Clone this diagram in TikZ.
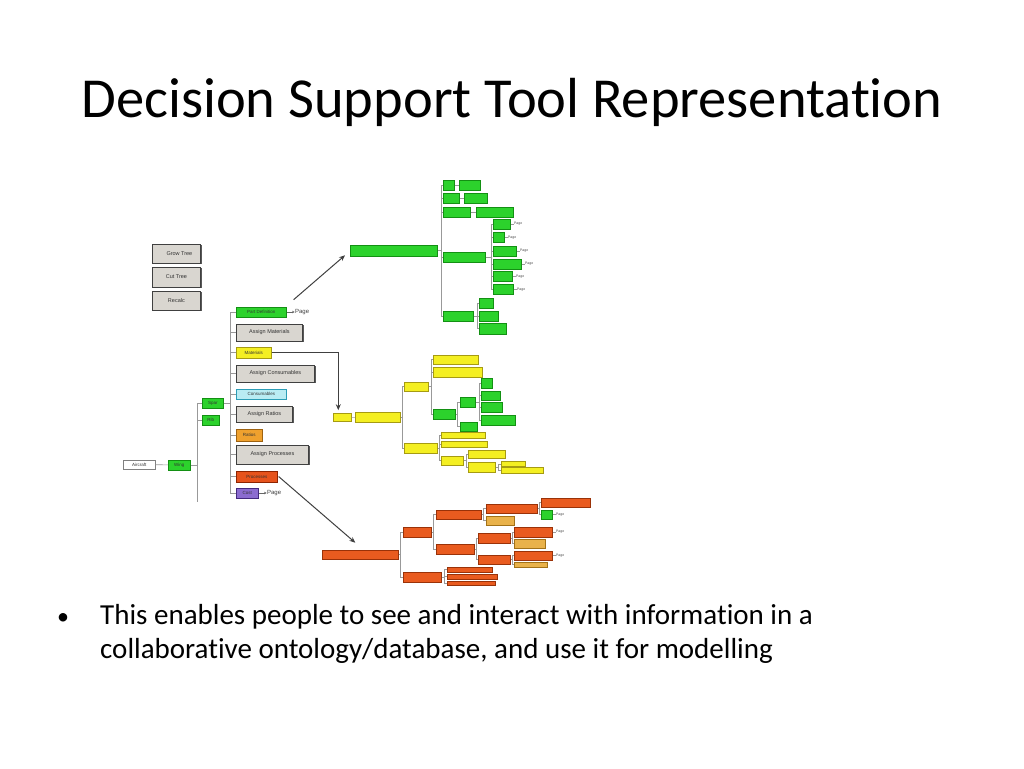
\documentclass[tikz,border=0pt]{standalone}
\usepackage{fontspec}
\setmainfont{Carlito}[Ligatures=NoCommon]
\newfontfamily\uifont{Liberation Sans}
\usetikzlibrary{positioning,arrows.meta,shadows}

\definecolor{gfill}{HTML}{2CD22C}
\definecolor{gline}{HTML}{139013}
\definecolor{yfill}{HTML}{F4EF22}
\definecolor{yline}{HTML}{A69B12}
\definecolor{cfill}{HTML}{B9ECF3}
\definecolor{cline}{HTML}{2C9DB6}
\definecolor{rfill}{HTML}{EFA12E}
\definecolor{rline}{HTML}{9E6210}
\definecolor{pfill}{HTML}{E6531C}
\definecolor{pline}{HTML}{8E2400}
\definecolor{vfill}{HTML}{8B6CD0}
\definecolor{vline}{HTML}{43297F}
\definecolor{ofill}{HTML}{E95B1F}
\definecolor{oline}{HTML}{9A3208}
\definecolor{lfill}{HTML}{E9B24A}
\definecolor{lline}{HTML}{A27218}
\definecolor{bgrey}{HTML}{D9D6D0}

\tikzset{
  tb/.style={anchor=west, inner sep=0pt, minimum height=10, line width=0.6pt,
    font=\uifont\fontsize{4.5}{5}\selectfont, text=black!80},
  gb/.style={tb, fill=gfill, draw=gline},
  yb/.style={tb, fill=yfill, draw=yline},
  ob/.style={tb, fill=ofill, draw=oline},
  lb/.style={tb, fill=lfill, draw=lline},
  btn/.style={tb, fill=bgrey, draw=black!75, line width=0.8pt,
    drop shadow={shadow xshift=1.3pt, shadow yshift=-1.3pt, fill=black!65, opacity=1},
    font=\uifont\fontsize{5.5}{6}\selectfont},
  link/.style={draw=black!40, line width=0.6pt},
  pg/.style={inner sep=0.3pt, font=\uifont\fontsize{6}{6}\selectfont, text=black!75},
  pgs/.style={inner sep=0.3pt, font=\uifont\fontsize{3.5}{4}\selectfont, text=black!70},
  tip/.style={draw=black!60, line width=0.4pt, -{Stealth[length=2.5pt,width=2.5pt]}},
  bigarrow/.style={draw=black!75, line width=1pt, -{Stealth[length=6pt,width=5pt]}},
}

\begin{document}
\begin{tikzpicture}[x=1pt,y=-1pt]
\fill[white] (0,0) rectangle (1024,768);
\useasboundingbox (0,0) rectangle (1024,768);

% title and bullet
\node[anchor=base, font=\fontsize{56.5}{66}\selectfont] (title) at (512,117) {Decision Support Tool Representation};
\node[anchor=base, font=\fontsize{24}{28}\selectfont] (dot) at (63,624) {\textbullet};
\node[anchor=base west, font=\fontsize{29}{35}\selectfont, inner sep=0pt] (b1) at (100,624)
  {This enables people to see and interact with information in a};
\node[anchor=base west, font=\fontsize{29}{35}\selectfont, inner sep=0pt] (b2) at (100,658)
  {collaborative ontology/database, and use it for modelling};

% tool buttons
\node[btn, minimum width=48, minimum height=19] (grow) at (152,253.5) {\hspace*{6pt}Grow Tree};
\node[btn, minimum width=48, minimum height=20] (cut) at (152,277) {Cut Tree};
\node[btn, minimum width=48, minimum height=19] (recalc) at (152,300.5) {Recalc};

% main tree
\node[tb, fill=white, draw=black!50, minimum width=32, minimum height=9] (air) at (123,464.5) {Aircraft};
\node[gb, minimum width=22] (wing) at (168,465) {Wing};
\node[gb, minimum width=21] (spar) at (202,403) {Spar};
\node[gb, minimum width=17] (rib) at (202,420) {Rib};
\coordinate (wingend) at (197,502);

\node[gb, minimum width=50] (pd) at (236,312) {Part Definition};
\node[btn, minimum width=66, minimum height=17] (am) at (236,332.5) {Assign Materials};
\node[yb, minimum width=35, minimum height=11] (mat) at (236,352.5) {Materials};
\node[btn, minimum width=78, minimum height=17] (ac) at (236,373.5) {Assign Consumables};
\node[tb, fill=cfill, draw=cline, minimum width=50] (cons) at (236,394) {Consumables};
\node[btn, minimum width=56, minimum height=16] (ar) at (236,414) {Assign Ratios};
\node[tb, fill=rfill, draw=rline, minimum width=26, minimum height=12] (rat) at (236,435) {Ratios};
\node[btn, minimum width=72, minimum height=19] (ap) at (236,454.5) {Assign Processes};
\node[tb, fill=pfill, draw=pline, minimum width=41, minimum height=11] (proc) at (236,476.5) {Processes};
\node[tb, fill=vfill, draw=vline, minimum width=22] (cost) at (236,493) {Cost};
\node[pg, right=8pt of pd] (pdp) {Page};
\node[pg, right=8pt of cost] (costp) {Page};

\draw[link] (air) -- (wing);
\draw[link] (wing.east) -- ++(7,0);
\draw[link] (spar.west) -| (wingend);
\draw[link] (rib.west) -- ++(-5,0);
\draw[link] (spar.east) -- ++(7,0);
\draw[link] (pd.west) -- ++(-6,0) |- (cost.west);
\draw[link] (am.west) -- ++(-6,0) (mat.west) -- ++(-6,0) (ac.west) -- ++(-6,0)
  (cons.west) -- ++(-6,0) (ar.west) -- ++(-6,0) (rat.west) -- ++(-6,0)
  (ap.west) -- ++(-6,0) (proc.west) -- ++(-6,0);
\draw[tip] (pd.east) -- (pdp.west);
\draw[tip] (cost.east) -- (costp.west);

% part definition tree
\node[gb, minimum width=87, minimum height=11] (gbig) at (350,250.5) {};
\node[gb, minimum width=11] (g1a) at (443,185) {};
\node[gb, minimum width=21] (g1b) at (459,185) {};
\node[gb, minimum width=16] (g2a) at (443,198) {};
\node[gb, minimum width=23] (g2b) at (464,198) {};
\node[gb, minimum width=27] (g3a) at (443,212) {};
\node[gb, minimum width=37] (g3b) at (476,212) {};
\node[gb, minimum width=42] (gmid) at (443,257) {};
\node[gb, minimum width=17] (gm1) at (493,224) {};
\node[gb, minimum width=11] (gm2) at (493,237.5) {};
\node[gb, minimum width=23] (gm3) at (493,251) {};
\node[gb, minimum width=28] (gm4) at (493,264) {};
\node[gb, minimum width=19] (gm5) at (493,276.5) {};
\node[gb, minimum width=20] (gm6) at (493,289.5) {};
\node[gb, minimum width=30] (gbot) at (443,316) {};
\node[gb, minimum width=14] (gb1) at (479,303) {};
\node[gb, minimum width=19] (gb2) at (479,316) {};
\node[gb, minimum width=27, minimum height=11] (gb3) at (479,328.5) {};
\node[pgs, right=3pt of gm1] (gm1p) {Page};
\node[pgs, right=3pt of gm2] (gm2p) {Page};
\node[pgs, right=3pt of gm3] (gm3p) {Page};
\node[pgs, right=3pt of gm4] (gm4p) {Page};
\node[pgs, right=3pt of gm5] (gm5p) {Page};
\node[pgs, right=3pt of gm6] (gm6p) {Page};

\draw[link] (gbig.east) -- ++(4,0);
\draw[link] (g1a.west) -- ++(-2,0) |- (gbot.west);
\draw[link] (g2a.west) -- ++(-2,0) (g3a.west) -- ++(-2,0) (gmid.west) -- ++(-2,0);
\draw[link] (g1a) -- (g1b) (g2a) -- (g2b) (g3a) -- (g3b);
\draw[link] (gmid.east) -- ++(6,0);
\draw[link] (gm1.west) -- ++(-2,0) |- (gm6.west);
\draw[link] (gm2.west) -- ++(-2,0) (gm3.west) -- ++(-2,0) (gm4.west) -- ++(-2,0)
  (gm5.west) -- ++(-2,0);
\draw[link] (gm1) -- (gm1p) (gm2) -- (gm2p) (gm3) -- (gm3p) (gm4) -- (gm4p)
  (gm5) -- (gm5p) (gm6) -- (gm6p);
\draw[link] (gbot.east) -- ++(4,0);
\draw[link] (gb1.west) -- ++(-2,0) |- (gb3.west);
\draw[link] (gb2.west) -- ++(-2,0);

% materials tree
\node[yb, minimum width=18, minimum height=8] (ystub) at (333,417.5) {};
\node[yb, minimum width=45] (ybig) at (355,417) {};
\node[yb, minimum width=24, minimum height=9] (yu) at (404,386.5) {};
\node[yb, minimum width=45, minimum height=9] (yu1) at (433,359.5) {};
\node[yb, minimum width=49] (yu2) at (433,372) {};
\node[gb, minimum width=22] (yg) at (433,414) {};
\node[gb, minimum width=15] (yg1) at (460,402) {};
\node[gb, minimum width=17, minimum height=9] (yg2) at (460,426.5) {};
\node[gb, minimum width=11] (yg11) at (481,383) {};
\node[gb, minimum width=19, minimum height=9] (yg12) at (481,395.5) {};
\node[gb, minimum width=21] (yg13) at (481,407) {};
\node[gb, minimum width=34] (yg14) at (481,420) {};
\node[yb, minimum width=33] (yl) at (404,448) {};
\node[yb, minimum width=44, minimum height=6] (yl1) at (441,435.5) {};
\node[yb, minimum width=46, minimum height=6] (yl2) at (441,444) {};
\node[yb, minimum width=22, minimum height=9] (yl3) at (441,460.5) {};
\node[yb, minimum width=37, minimum height=8] (yl31) at (468,454) {};
\node[yb, minimum width=27] (yl32) at (468,467) {};
\node[yb, minimum width=24, minimum height=5] (yl321) at (501,464) {};
\node[yb, minimum width=42, minimum height=6] (yl322) at (501,470) {};

\draw[link] (ystub) -- (ybig);
\draw[link] (ybig.east) -- ++(2,0);
\draw[link] (yu.west) -- ++(-2,0) |- (yl.west);
\draw[link] (yu.east) -- ++(3,0);
\draw[link] (yu1.west) -- ++(-2,0) |- (yg.west);
\draw[link] (yu2.west) -- ++(-2,0);
\draw[link] (yg.east) -- ++(2,0);
\draw[link] (yg1.west) -- ++(-3,0) |- (yg2.west);
\draw[link] (yg1.east) -- ++(4,0);
\draw[link] (yg11.west) -- ++(-2,0) |- (yg14.west);
\draw[link] (yg12.west) -- ++(-2,0) (yg13.west) -- ++(-2,0);
\draw[link] (yl.east) -- ++(2,0);
\draw[link] (yl1.west) -- ++(-2,0) |- (yl3.west);
\draw[link] (yl2.west) -- ++(-2,0);
\draw[link] (yl3.east) -- ++(3,0);
\draw[link] (yl31.west) -- ++(-2,0) |- (yl32.west);
\draw[link] (yl32.east) -- ++(3,0);
\draw[link] (yl321.west) -- ++(-3,0) |- (yl322.west);

% processes tree
\node[ob, minimum width=76, minimum height=9] (obig) at (322,554.5) {};
\node[ob, minimum width=28] (o1) at (403,532) {};
\node[ob, minimum width=45, minimum height=9] (o11) at (436,514.5) {};
\node[ob, minimum width=51, minimum height=9] (o111) at (486,508.5) {};
\node[lb, minimum width=28, minimum height=9] (o112) at (486,520.5) {};
\node[ob, minimum width=49, minimum height=9] (o1111) at (541,502.5) {};
\node[gb, minimum width=11, minimum height=9] (o1112) at (541,514.5) {};
\node[ob, minimum width=38] (o12) at (436,549) {};
\node[ob, minimum width=32] (o121) at (478,538) {};
\node[ob, minimum width=32, minimum height=9] (o122) at (478,559.5) {};
\node[ob, minimum width=38] (o1211) at (514,532) {};
\node[lb, minimum width=31, minimum height=9] (o1212) at (514,543.5) {};
\node[ob, minimum width=38, minimum height=9] (o1221) at (514,555.5) {};
\node[lb, minimum width=33, minimum height=5] (o1222) at (514,564.5) {};
\node[ob, minimum width=38] (o2) at (403,577) {};
\node[ob, minimum width=45, minimum height=5] (o21) at (447,569.5) {};
\node[ob, minimum width=50, minimum height=5] (o22) at (447,576.5) {};
\node[ob, minimum width=48, minimum height=4] (o23) at (447,583.5) {};
\node[pgs, right=3pt of o1112] (o1112p) {Page};
\node[pgs, right=3pt of o1211] (o1211p) {Page};
\node[pgs, right=3pt of o1221] (o1221p) {Page};

\draw[link] (obig.east) -- ++(2,0);
\draw[link] (o1.west) -- ++(-3,0) |- (o2.west);
\draw[link] (o1.east) -- ++(2,0);
\draw[link] (o11.west) -- ++(-3,0) |- (o12.west);
\draw[link] (o11.east) -- ++(2,0);
\draw[link] (o111.west) -- ++(-3,0) |- (o112.west);
\draw[link] (o111.east) -- ++(2,0);
\draw[link] (o1111.west) -- ++(-2,0) |- (o1112.west);
\draw[link] (o12.east) -- ++(2,0);
\draw[link] (o121.west) -- ++(-2,0) |- (o122.west);
\draw[link] (o121.east) -- ++(2,0);
\draw[link] (o1211.west) -- ++(-2,0) |- (o1212.west);
\draw[link] (o122.east) -- ++(2,0);
\draw[link] (o1221.west) -- ++(-2,0) |- (o1222.west);
\draw[link] (o2.east) -- ++(3,0);
\draw[link] (o21.west) -- ++(-3,0) |- (o23.west);
\draw[link] (o22.west) -- ++(-3,0);
\draw[link] (o1112) -- (o1112p) (o1211) -- (o1211p) (o1221) -- (o1221p);

% arrows to the sub trees
\draw[bigarrow] ([xshift=7,yshift=7]pd.north east) -- ([xshift=-5,yshift=1]gbig.south west);
\draw[bigarrow] (mat.east) -| ([xshift=-4,yshift=3]ystub.north);
\draw[bigarrow] ([xshift=1]proc.east) -- ([xshift=-5,yshift=7]obig.north);
\end{tikzpicture}
\end{document}
